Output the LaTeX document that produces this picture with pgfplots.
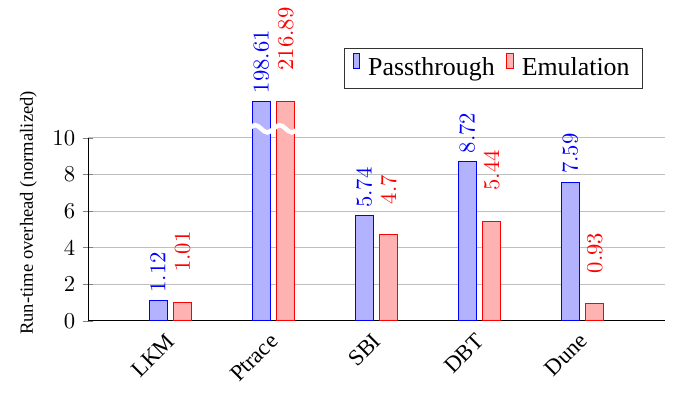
\documentclass[border=0pt]{standalone}
\usepackage{fontspec}
\setmainfont{Liberation Serif}
\usepackage{pgfplots}
\pgfplotsset{compat=1.18}
\usepackage{pgfplotstable}

\pgfplotstableread{
x y label
0 1.12 1.12
1 12 198.61
2 5.74 5.74
3 8.72 8.72
4 7.59 7.59
}\pass
\pgfplotstableread{
x y label
0 1.01 1.01
1 12 216.89
2 4.7 4.7
3 5.44 5.44
4 0.93 0.93
}\emu

\begin{document}
\begin{tikzpicture}
\begin{axis}[
  scale only axis, width=254.2pt, height=80.6pt,
  ybar=2.8pt, bar width=8pt,
  xmin=-0.8, xmax=4.8, ymin=0, ymax=10,
  axis lines=left, axis line style={-},
  xtick={0,1,2,3,4}, xticklabels={LKM,Ptrace,SBI,DBT,Dune},
  xticklabel style={rotate=45, anchor=north east, yshift=3pt, font=\fontsize{10}{12}\selectfont},
  xtick style={draw=none},
  ytick={0,2,4,6,8,10},
  ymajorgrids, major grid style={gray!50, line width=0.4pt},
  ylabel={Run-time overhead (normalized)},
  every axis y label/.style={at={(ticklabel cs:0.59)}, rotate=90, anchor=near ticklabel, font=\fontsize{8.2}{10}\selectfont},
  clip=false,
  point meta=explicit symbolic,
  nodes near coords={$\pgfplotspointmeta$},
  legend style={at={(0.961,1.49)}, anchor=north east, legend columns=-1,
    font=\fontsize{11.4}{13}\selectfont, draw=black!80, inner xsep=3.5pt, inner ysep=2pt,
    /tikz/every odd column/.append style={column sep=1.5pt},
    /tikz/every even column/.append style={column sep=3pt}},
  legend image code/.code={\draw[#1] (0pt,0pt) rectangle (3pt,6.6pt);},
]
\addplot[draw=blue, fill=blue!30,
  every node near coord/.append style={blue, rotate=90, anchor=west}]
  table[x=x, y=y, meta=label] {\pass};
\addplot[draw=red, fill=red!30,
  every node near coord/.append style={red, yshift=10pt, rotate=90, anchor=west}]
  table[x=x, y=y, meta=label] {\emu};
\legend{Passthrough, Emulation}
\draw[white, line width=2pt] ([xshift=-10.8pt]axis cs:1,10.5)
  sin ++(2.7pt,1.6pt) cos ++(2.7pt,-1.6pt) sin ++(2.7pt,-1.6pt) cos ++(2.7pt,1.6pt)
  sin ++(2.7pt,1.6pt) cos ++(2.7pt,-1.6pt) sin ++(2.7pt,-1.6pt) cos ++(2.7pt,1.6pt);
\path (rel axis cs:-0.1525,-0.3716) (rel axis cs:1.0208,1.7377);
\end{axis}
\end{tikzpicture}
\end{document}
